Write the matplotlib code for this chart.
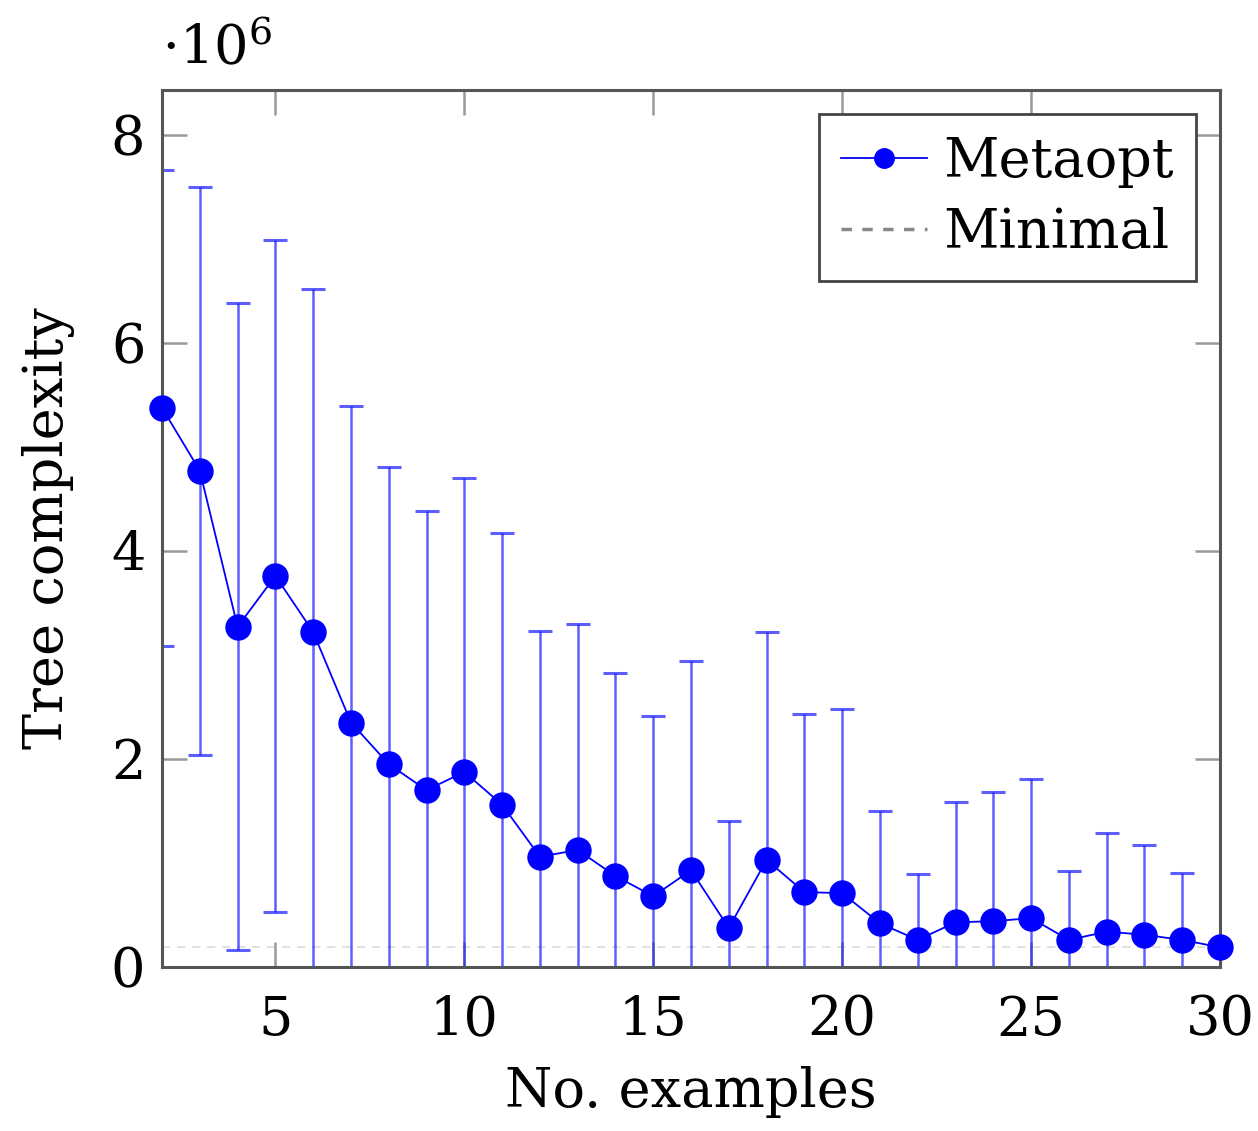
import matplotlib
matplotlib.use('Agg')
import matplotlib.pyplot as plt
from matplotlib.lines import Line2D

plt.rcParams['font.family'] = ['DejaVu Serif']
plt.rcParams['mathtext.fontset'] = 'dejavuserif'

# values in units of 1e6
examples = list(range(2, 31))
metaopt_mean = [5.375, 4.77, 3.27, 3.76, 3.22, 2.35, 1.95, 1.70, 1.875, 1.56,
                1.06, 1.125, 0.875, 0.68, 0.93, 0.375, 1.03, 0.72, 0.71, 0.42,
                0.26, 0.43, 0.44, 0.47, 0.26, 0.34, 0.31, 0.26, 0.19]
metaopt_std = [2.285, 2.73, 3.11, 3.23, 3.30, 3.04, 2.86, 2.68, 2.825, 2.61,
               2.17, 2.175, 1.955, 1.73, 2.01, 1.025, 2.19, 1.71, 1.77, 1.08,
               0.63, 1.16, 1.24, 1.34, 0.66, 0.95, 0.86, 0.64, 0.05]
minimal = 0.19

fig = plt.figure(figsize=(12.58, 11.31), dpi=100)
ax = fig.add_axes([0.1288, 0.145, 0.841, 0.7754])

ax.axhline(minimal, color='#999999', lw=1.2, ls=(0, (5, 4)), alpha=0.35, zorder=1)

ax.errorbar(examples, metaopt_mean, yerr=metaopt_std, fmt='none',
            ecolor=(0.1, 0.1, 1.0, 0.7), elinewidth=1.8, capsize=8.5,
            capthick=2.2, zorder=2)
ax.plot(examples, metaopt_mean, '-o', color='#0000ff', lw=1.3, ms=18,
        zorder=3, clip_on=False)

ax.set_xlim(2, 30)
ax.set_ylim(0, 8.43)
ax.set_xticks([5, 10, 15, 20, 25, 30])
ax.set_yticks([0, 2, 4, 6, 8])
ax.tick_params(direction='in', length=18, width=1.8, color='#999999',
               top=True, right=True, labelsize=39, pad=12)
ax.tick_params(axis='x', pad=20)
for s in ax.spines.values():
    s.set_color('#555555')
    s.set_linewidth(2.2)

ax.set_xlabel('No. examples', fontsize=39, labelpad=14)
ax.set_ylabel('Tree complexity', fontsize=39, labelpad=26)
fig.text(0.128, 0.933, r'$\cdot 10^6$', fontsize=39, ha='left', va='bottom')

handles = [Line2D([], [], color='#0000ff', marker='o', lw=1.3, ms=14),
           Line2D([], [], color='#888888', lw=2.5, ls=(0, (3, 3)))]
leg = ax.legend(handles, ['Metaopt', 'Minimal'], loc='upper right',
                fontsize=39, fancybox=False, framealpha=1, edgecolor='#444444',
                borderaxespad=0.45, handlelength=1.6, handletextpad=0.3,
                labelspacing=0.35, borderpad=0.4)
leg.get_frame().set_linewidth(2)

fig.savefig('out.png', dpi=100)
